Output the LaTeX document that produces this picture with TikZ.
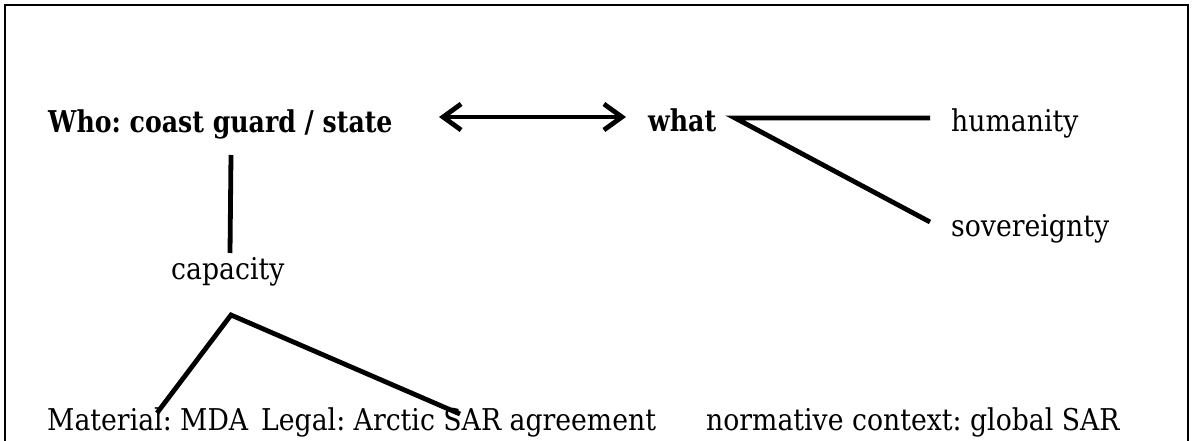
\documentclass[tikz,border=0pt]{standalone}
\usepackage{fontspec}
\setmainfont[FakeStretch=0.89,BoldFeatures={FakeStretch=0.84}]{DejaVu Serif}
\usetikzlibrary{arrows.meta}
\begin{document}
\frenchspacing
\begin{tikzpicture}[x=1pt,y=-1pt,
  lbl/.style={anchor=base west,inner sep=0pt,font=\fontsize{30}{35}\selectfont},
  blbl/.style={lbl,font=\fontsize{30}{35}\selectfont\bfseries},
  conn/.style={line width=4.8pt},
  dbl/.style={line width=4.8pt,{Straight Barb[length=18pt,width=26pt]}-{Straight Barb[length=18pt,width=26pt]}},
  frame/.style={line width=2pt}]
\useasboundingbox (0,0) rectangle (1192,441);
\fill[white] (0,0) rectangle (1192,441);
\draw[frame] (5,445) -- (5,5) -- (1188,5) -- (1188,445);
\node[blbl] (who) at (48,133) {Who: coast guard / state};
\node[blbl] (what) at (648,132) {what};
\node[lbl] (hum) at (951,132) {humanity};
\node[lbl] (sov) at (951,236) {sovereignty};
\node[lbl] (cap) at (171,279) {capacity};
\node[lbl] (mat) at (47,430) {Material: MDA};
\node[lbl] (leg) at (261,430) {Legal: Arctic SAR agreement};
\node[lbl] (norm) at (706,430) {normative context: global SAR};
\coordinate (a1) at (439,117);
\coordinate (a2) at (626,117);
\coordinate (w1) at (735,118);
\coordinate (h1) at (930,118);
\coordinate (s1) at (930,222);
\coordinate (v1) at (231,155);
\coordinate (v2) at (230,253);
\coordinate (c1) at (231,315);
\coordinate (m1) at (157,413);
\coordinate (l1) at (460,414);
\draw[dbl] (a1) -- (a2);
\draw[conn] (h1) -- (w1) -- (s1);
\draw[conn] (v1) -- (v2);
\draw[conn] (m1) -- (c1) -- (l1);
\end{tikzpicture}
\end{document}
